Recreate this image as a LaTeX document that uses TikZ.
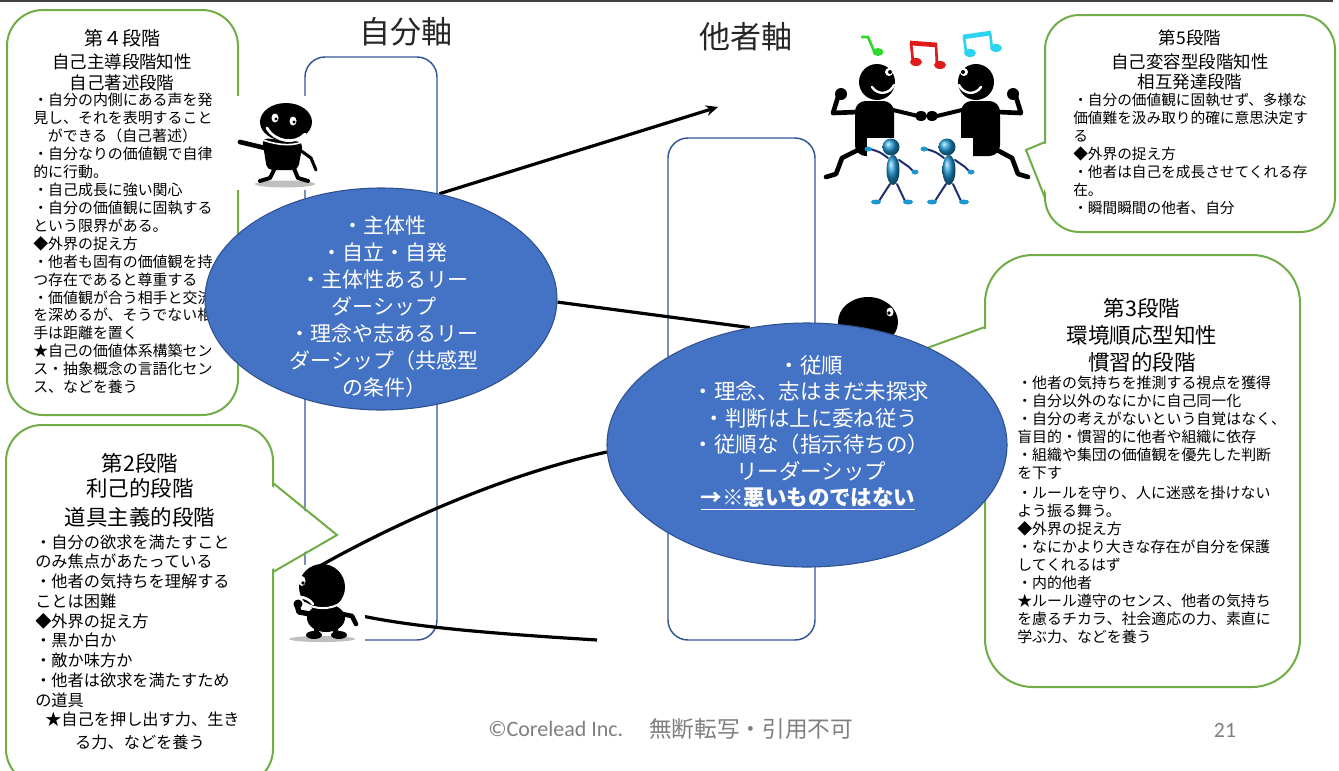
\documentclass[tikz,border=0pt]{standalone}
\usepackage{fontspec}
\setmainfont{Noto Sans CJK JP}
\newfontfamily\latinfoot{Carlito}
\usetikzlibrary{shapes.geometric,arrows.meta}
\pgfdeclarelayer{frames}
\pgfdeclarelayer{links}
\pgfsetlayers{frames,links,main}

\definecolor{calloutgreen}{HTML}{70AD47}
\definecolor{axisblue}{HTML}{2F5597}
\definecolor{ellfill}{HTML}{4472C4}
\definecolor{ellline}{HTML}{2F528F}
\definecolor{footgray}{HTML}{7F7F7F}
\definecolor{rulegray}{HTML}{404040}
\definecolor{figblue}{HTML}{1E96D2}
\definecolor{fignavy}{HTML}{1F2F6F}
\definecolor{notegreen}{HTML}{2ED82E}
\definecolor{notered}{HTML}{E01B1B}
\definecolor{notecyan}{HTML}{2CD4F2}

\newcommand\txtsize[1]{\fontsize{#1}{#1}\selectfont}

\begin{document}
\begin{tikzpicture}[x=0.75pt,y=-0.75pt,
  callout/.style={draw=calloutgreen, line width=1.5pt, fill=white},
  pointer/.style={draw=calloutgreen, line width=1.5pt, line join=miter},
  axisbox/.style={draw=axisblue, line width=1.1pt, rounded corners=15pt},
  bubble/.style={ellipse, fill=ellfill, draw=ellline, line width=0.8pt, inner sep=0pt},
  flow/.style={draw=black, line width=2.4pt},
  lbl/.style={inner sep=0pt, text=black},
  headS/.style={lbl, anchor=base, font=\txtsize{13.1pt}},
  headL/.style={lbl, anchor=base, font=\txtsize{16.1pt}},
  bodyS/.style={lbl, anchor=base west, font=\txtsize{11.2pt}},
  bodyM/.style={lbl, anchor=base west, font=\txtsize{12.15pt}},
  bubtextA/.style={inner sep=0pt, text=white, anchor=base, font=\txtsize{15.75pt}},
  bubtextB/.style={inner sep=0pt, text=white, anchor=base, font=\txtsize{16.1pt}},
  axislabel/.style={inner sep=0pt, text=black!85, anchor=base, font=\txtsize{23.25pt}},
  foot/.style={inner sep=0pt, text=footgray, anchor=base west},
  limb/.style={line width=3pt, line cap=round, line join=round},
]
\useasboundingbox (0,0) rectangle (1339,771);

% ---------------- frames: rule, axis boxes, speech bubbles ----------------
\begin{pgfonlayer}{frames}
  \draw[draw=rulegray, line width=1.5pt] (0,1) -- (1333,1);
  \draw[axisbox] (305,57) rectangle (437,640);
  \draw[axisbox] (668,138) rectangle (815,640);

  % stage 4
  \draw[callout, rounded corners=27pt] (7,10) rectangle (238,415);
  \node[lbl, anchor=base, font=\txtsize{14.25pt}] (c4h1) at (122,45.2) {第４段階};
  \node[headS] (c4h2) at (122,68.6) {自己主導段階知性};
  \node[headS] (c4h3) at (122,89.6) {自己著述段階};
  \foreach \tline [count=\k] in {・自分の内側にある声を発, 見し、それを表明すること,
      \hspace*{11pt}ができる（自己著述）, ・自分なりの価値観で自律, 的に行動。,
      ・自己成長に強い関心, ・自分の価値観に固執する, という限界がある。,
      ◆外界の捉え方, ・他者も固有の価値観を持, つ存在であると尊重する,
      ・価値観が合う相手と交流, を深めるが、そうでない相, 手は距離を置く,
      ★自己の価値体系構築セン, ス・抽象概念の言語化セン, ス、などを養う}
    \node[bodyS] (c4b\k) at (33,{100+17.94*(\k-1)+5.7}) {\tline};

  % stage 2
  \draw[callout, rounded corners=27pt] (6,425) rectangle (273,785);
  \fill[white] (270,485) -- (337,535) -- (270,570) -- cycle;
  \draw[pointer] (273,483) -- (337,535) -- (273,572);
  \node[headL] (c2h1) at (140,471.2) {第2段階};
  \node[headL] (c2h2) at (140,496.2) {利己的段階};
  \node[headL] (c2h3) at (140,525.2) {道具主義的段階};
  \foreach \tline [count=\k] in {・自分の欲求を満たすこと, のみ焦点があたっている,
      ・他者の気持ちを理解する, ことは困難, ◆外界の捉え方, ・黒か白か,
      ・敵か味方か, ・他者は欲求を満たすため, の道具,
      \hspace*{7.5pt}★自己を押し出す力、生き}
    \node[bodyM] (c2b\k) at (35,{542+19.75*(\k-1)+6.2}) {\tline};
  \node[lbl, anchor=base, font=\txtsize{12.15pt}] (c2b11) at (140,748) {る力、などを養う};

  % stage 5
  \draw[callout, rounded corners=26pt] (1045,15) rectangle (1335,232);
  \fill[white] (1048,143) -- (1026,150) -- (1048,197) -- cycle;
  \draw[pointer] (1045,142) -- (1026,150) -- (1045,198);
  \node[headS] (c5h1) at (1190,44.6) {第5段階};
  \node[headS] (c5h2) at (1190,68.6) {自己変容型段階知性};
  \node[headS] (c5h3) at (1190,88.6) {相互発達段階};
  \foreach \tline [count=\k] in {・自分の価値観に固執せず、多様な,
      価値難を汲み取り的確に意思決定す, る, ◆外界の捉え方,
      ・他者は自己を成長させてくれる存, 在。, ・瞬間瞬間の他者、自分}
    \node[lbl, anchor=base west, font=\txtsize{11pt}] (c5b\k) at (1073,{100+18*(\k-1)+5.6}) {\tline};

  % stage 3
  \draw[callout, rounded corners=36pt] (985,255) rectangle (1300,687);
  \fill[white] (988,328) -- (905,356) -- (988,394) -- cycle;
  \draw[pointer] (985,327) -- (905,356) -- (985,395);
  \node[headL] (c3h1) at (1142,316.2) {第3段階};
  \node[headL] (c3h2) at (1142,343.2) {環境順応型知性};
  \node[headL] (c3h3) at (1142,370.2) {慣習的段階};
  \foreach \tline [count=\k] in {・他者の気持ちを推測する視点を獲得,
      ・自分以外のなにかに自己同一化, ・自分の考えがないという自覚はなく、,
      盲目的・慣習的に他者や組織に依存, ・組織や集団の価値観を優先した判断, を下す}
    \node[bodyS] (c3a\k) at (1017,{383+18*(\k-1)+5.7}) {\tline};
  \foreach \tline [count=\k] in {・ルールを守り、人に迷惑を掛けない, よう振る舞う。,
      ◆外界の捉え方, ・なにかより大きな存在が自分を保護, してくれるはず, ・内的他者,
      ★ルール遵守のセンス、他者の気持ち, を慮るチカラ、社会適応の力、素直に,
      学ぶ力、などを養う}
    \node[bodyS] (c3b\k) at (1017,{493+18*(\k-1)+5.7}) {\tline};
\end{pgfonlayer}

% ---------------- main: the two ellipses ----------------
\node[bubble, minimum width=264pt, minimum height=166.5pt] (ellA) at (381,299) {};
\node[bubble, minimum width=300pt, minimum height=183pt] (ellB) at (807,445) {};

\foreach \tline [count=\k] in {・主体性, ・自立・自発, ・主体性あるリー, ダーシップ,
    ・理念や志あるリー, ダーシップ（共感型, の条件）}
  \node[bubtextA] (ta\k) at (384,{225+27*(\k-1)+8}) {\tline};

\foreach \tline [count=\k] in {・従順, ・理念、志はまだ未探求, ・判断は上に委ね従う,
    ・従順な（指示待ちの）, リーダーシップ}
  \node[bubtextB] (tb\k) at (811,{365+26.5*(\k-1)+8.2}) {\tline};
\node[bubtextB] (tb6) at (808,505.2) {\underline{\bfseries →※悪いものではない}};

% ---------------- links and small figures ----------------
\begin{pgfonlayer}{links}
  \coordinate (tipA) at (718,107);
  \draw[flow, -{Stealth[length=9pt,width=8pt]}] (ellA.61) -- (tipA);
  \draw[flow] (ellA.-1) -- (ellB.116);
  \coordinate (lowStart) at (318,567);
  \draw[flow] (lowStart) .. controls (380,532) and (490,478) .. (ellB.182);
  \coordinate (footStart) at (362,616);
  \coordinate (footEnd) at (597,640);
  \draw[flow] (footStart) .. controls (420,628) and (500,634) .. (footEnd);

  % smiling figure beside stage 4
  \fill[white] (237,96) rectangle (322,190);
  \fill[black!25] (285,184) ellipse [x radius=30, y radius=3.5];
  \draw[limb] (276,166) -- (270,178) -- (260,181);
  \draw[limb] (293,166) -- (298,178) -- (308,181);
  \fill[rounded corners=4pt] (262,138) -- (303,142) -- (298,170) -- (267,170) -- cycle;
  \draw[limb, line width=3.5pt] (265,148) -- (240,142);
  \draw[limb, line width=2.3pt] (300,150) -- (311,158) -- (316,170);
  \fill (286,122) ellipse [x radius=26, y radius=19];
  \draw[white, line width=1.2pt] (263,140) .. controls (280,146) and (295,146) .. (304,141);
  \fill[white] (275,118) ellipse [x radius=3.5, y radius=4.5];
  \fill[white] (293,121) ellipse [x radius=3.5, y radius=4.5];
  \fill (276,119) circle [radius=1.6];
  \fill (294,122) circle [radius=1.6];
  \draw[white, line width=2pt, line cap=round] (267,128) .. controls (275,142) and (295,145) .. (305,134);

  % frowning figure beside stage 2
  \fill[white] (288,565) rectangle (365,642);
  \fill[black!25] (322,639) ellipse [x radius=33, y radius=3];
  \draw[line width=4pt] (318,624) -- (316,634);
  \draw[line width=4pt] (333,624) -- (337,634);
  \fill (314,635) ellipse [x radius=8, y radius=4];
  \fill (339,635) ellipse [x radius=8, y radius=4];
  \fill (326,618) ellipse [x radius=19, y radius=14];
  \draw[limb, line width=4pt] (310,614) -- (299,612) -- (297,605);
  \fill (298,604) circle [radius=4.5];
  \draw[limb, line width=3.5pt] (342,614) -- (352,616) -- (356,624);
  \fill (322,587) circle [radius=23];
  \draw[white, line width=1.5pt] (305,603) .. controls (315,610) and (332,610) .. (342,602);
  \fill[white] (302,581) ellipse [x radius=3.5, y radius=5];
  \fill (303,583) circle [radius=1.8];
  \draw[white, line width=2pt, line cap=round] (299,597) .. controls (305,597) and (310,600) .. (313,604);

  % figure peeking behind the right ellipse
  \fill (868,322) ellipse [x radius=30, y radius=25];
  \fill (884,331) ellipse [x radius=7, y radius=4];
  \fill[white] (890,312) ellipse [x radius=3.5, y radius=4.5];
  \fill (889,313) circle [radius=1.8];
\end{pgfonlayer}

% ---------------- dancing pair with notes ----------------
% notes
\draw[notegreen, line width=2pt, line cap=round] (862,37) -- (868,37) -- (874,51);
\fill[notegreen] (878,52) ellipse [x radius=5.5, y radius=4];
\draw[notered, line width=3.5pt] (910,43) -- (937,45);
\draw[notered, line width=2pt] (911,43) -- (913,62);
\draw[notered, line width=2pt] (936,45) -- (937,65);
\fill[notered] (916,62) ellipse [x radius=6, y radius=4];
\fill[notered] (940,65) ellipse [x radius=6, y radius=4];
\draw[notecyan, line width=3.5pt] (963,37) -- (991,33);
\draw[notecyan, line width=2pt] (964,37) -- (966,52);
\draw[notecyan, line width=2pt] (990,33) -- (992,48);
\fill[notecyan] (970,53) ellipse [x radius=6, y radius=4];
\fill[notecyan] (996,48) ellipse [x radius=6, y radius=4];
% left dancer
\draw[limb, line width=3.5pt] (858,150) -- (842,158) -- (836,174) -- (826,177);
\fill[rounded corners=8pt] (855,101) rectangle (894,156);
\draw[limb, line width=3.5pt] (857,112) -- (833,113) -- (838,97);
\fill (841,94) circle [radius=6];
\draw[limb] (893,110) -- (918,116);
\fill (877,82) circle [radius=18];
\fill[white] (889,72) circle [radius=4];
\fill (890,72) circle [radius=2];
\draw[white, line width=1.8pt, line cap=round] (872,87) .. controls (878,96) and (890,94) .. (894,85);
% right dancer
\draw[limb, line width=3.5pt] (997,150) -- (1012,158) -- (1018,174) -- (1028,177);
\fill[rounded corners=8pt] (961,101) rectangle (1000,156);
\draw[limb, line width=3.5pt] (998,112) -- (1021,113) -- (1016,97);
\fill (1013,94) circle [radius=6];
\draw[limb] (962,110) -- (937,116);
\fill (921,116) ellipse [x radius=6, y radius=5];
\fill (932,116) ellipse [x radius=6, y radius=5];
\fill (976,82) circle [radius=18];
\fill[white] (964,72) circle [radius=4];
\fill (963,72) circle [radius=2];
\draw[white, line width=1.8pt, line cap=round] (981,87) .. controls (975,96) and (963,94) .. (959,85);
% two small blue figures in front
\fill[white] (867,138) rectangle (973,205);
\foreach \dx in {0,56} {
  \draw[fignavy, line width=1.5pt, line cap=round] (888+\dx,158) .. controls (880+\dx,152) .. (870+\dx,149);
  \draw[fignavy, line width=1.5pt, line cap=round] (899+\dx,160) -- (909+\dx,167) -- (914+\dx,172);
  \draw[fignavy, line width=1.5pt, line cap=round] (890+\dx,184) -- (879+\dx,201);
  \draw[fignavy, line width=1.5pt, line cap=round] (897+\dx,184) -- (905+\dx,201);
  \shade[ball color=figblue] (893+\dx,170) ellipse [x radius=6.5, y radius=15];
  \shade[ball color=figblue] (891+\dx,147) circle [radius=8.5];
  \fill[figblue] (868+\dx,149) ellipse [x radius=3.5, y radius=2.5];
  \fill[figblue] (915+\dx,172) ellipse [x radius=3.5, y radius=2.5];
  \fill[figblue] (876+\dx,202) ellipse [x radius=5, y radius=2.5];
  \fill[figblue] (908+\dx,202) ellipse [x radius=5, y radius=2.5];
}

% ---------------- axis titles and footer ----------------
\node[axislabel] (axisSelf) at (406,43.8) {自分軸};
\node[axislabel] (axisOther) at (746,48.8) {他者軸};
\node[foot, font=\latinfoot\txtsize{16.5pt}] (copyright) at (488,736) {©Corelead Inc.};
\node[foot, font=\txtsize{17pt}] (notice) at (649,737.7) {無断転写・引用不可};
\node[foot, anchor=base, font=\latinfoot\txtsize{16.3pt}] (pageno) at (1225,737) {21};
\end{tikzpicture}
\end{document}
